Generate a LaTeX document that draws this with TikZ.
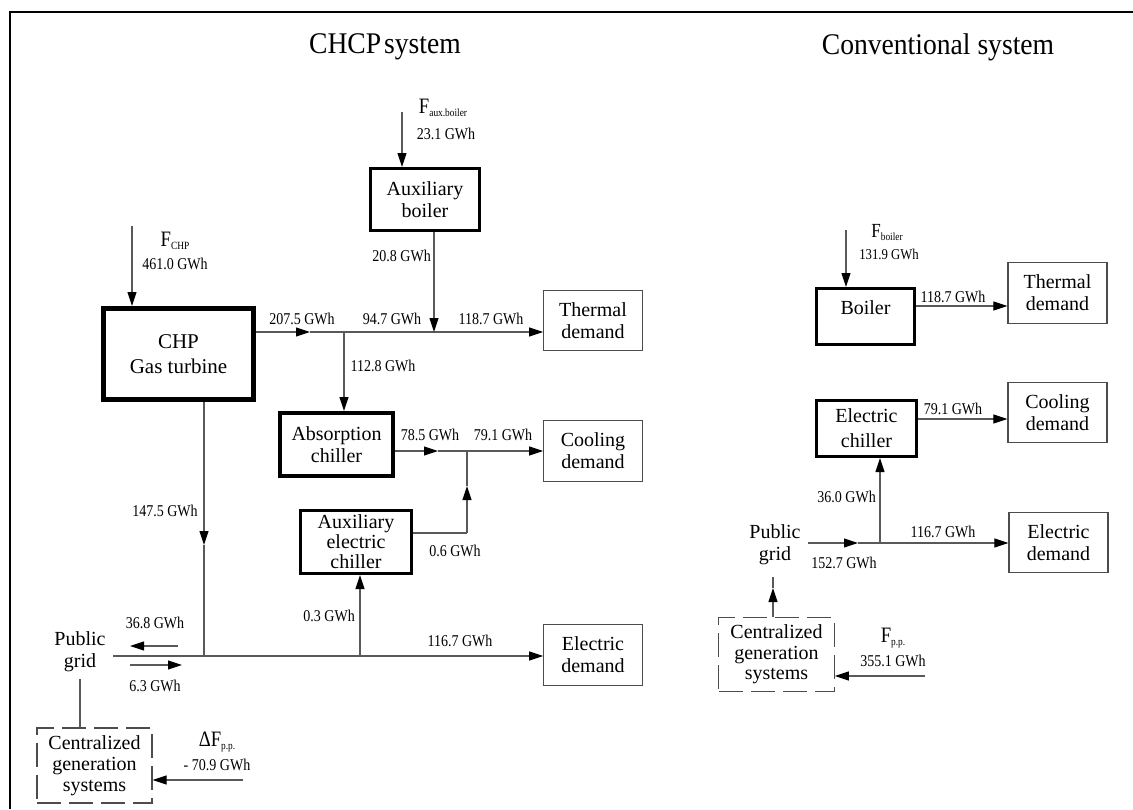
\documentclass[tikz,border=0pt]{standalone}
\usepackage{fontspec}
\setmainfont{Liberation Serif}
\newfontfamily\lab[FakeStretch=0.85]{Liberation Serif}
\newfontfamily\ttl[FakeStretch=0.92]{Liberation Serif}
\usetikzlibrary{arrows.meta}
\newcommand{\sub}[1]{\raisebox{-3pt}{\fontsize{11}{11}\selectfont #1}}
\begin{document}
\begin{tikzpicture}[x=1pt,y=-1pt,
  bx/.style={draw=black, inner sep=0pt, align=center, font=\fontsize{20}{22}\selectfont},
  dem/.style={bx, draw=black!70, line width=1.3pt},
  cgs/.style={bx, draw=black!70, line width=1.3pt, dash pattern=on 24pt off 8pt},
  lbl/.style={inner sep=0pt, font=\lab\fontsize{16.5}{18}\selectfont},
  flbl/.style={inner sep=0pt, font=\lab\fontsize{22}{22}\selectfont},
  txt/.style={inner sep=0pt, align=center, font=\fontsize{20}{22}\selectfont},
  ln/.style={draw=black!65, line width=1.1pt},
  arr/.style={ln, -{Triangle[length=14pt,width=9pt,color=black,fill=black]}},
  frame/.style={line width=2.5pt}
]
\useasboundingbox (0,0) rectangle (1133,809);
% frame
\draw[frame] (10,809) -- (10,12) -- (1133,12);
% titles
\node[inner sep=0pt, font=\ttl\fontsize{30}{30}\selectfont] (t1) at (385,47) {CHCP\hspace{3pt}system};
\node[inner sep=0pt, font=\ttl\fontsize{30}{30}\selectfont] (t2) at (938,47) {Conventional system};

% ===== CHCP boxes =====
\node[bx, line width=5pt, minimum width=150pt, minimum height=91pt, font=\fontsize{21}{26}\selectfont] (chp) at (178.5,354) {CHP\\[-1pt]Gas turbine};
\node[bx, line width=3pt, minimum width=109pt, minimum height=62pt] (auxb) at (425,199.5) {Auxiliary\\boiler};
\node[bx, line width=4pt, minimum width=113pt, minimum height=63pt] (abs) at (336.5,444.5) {Absorption\\chiller};
\node[bx, line width=3pt, minimum width=111pt, minimum height=63pt, font=\fontsize{20}{20}\selectfont] (auxec) at (356,542) {Auxiliary\\electric\\chiller};
\node[dem, minimum width=98.5pt, minimum height=59.5pt] (tdem) at (593,320.5) {Thermal\\demand};
\node[dem, minimum width=98.5pt, minimum height=60.5pt] (cdem) at (593,451) {Cooling\\demand};
\node[dem, minimum width=98.5pt, minimum height=60.5pt] (edem) at (593,655) {Electric\\demand};
\node[cgs, minimum width=115pt, minimum height=75pt, font=\fontsize{20}{21}\selectfont] (cgs) at (94.5,765.5) {Centralized\\generation\\systems};
\node[txt] (pg) at (80,652) {Public\\grid};

% coordinates CHCP
\coordinate (fchp) at (132,226);
\coordinate (faux) at (402,112);
\coordinate (m1) at (310,332);
\coordinate (j1) at (344,332);
\coordinate (j2) at (434,332);
\coordinate (m2) at (438,451);
\coordinate (j3) at (467,451);
\coordinate (k3) at (467,533);
\coordinate (m3) at (467,486);
\coordinate (m4) at (204,545);
\coordinate (jb1) at (204,656);
\coordinate (jb2) at (360,656);
\coordinate (bs) at (113,656);
\coordinate (a1s) at (178,646);
\coordinate (a1e) at (130,646);
\coordinate (a2s) at (130,665);
\coordinate (a2e) at (182,665);
\coordinate (dfp) at (243,780);
\coordinate (pgb) at (80,679);

% connectors CHCP
\draw[arr] (fchp) -- (fchp |- chp.north);
\draw[arr] (faux) -- (faux |- auxb.north);
\draw[arr] (chp.east |- m1) -- (m1);
\draw[ln] (m1) -- (j1) -- (j2);
\draw[arr] (j2) -- (tdem.west |- j2);
\draw[arr] (j2 |- auxb.south) -- (j2);
\draw[arr] (j1) -- (j1 |- abs.north);
\draw[arr] (abs.east |- m2) -- (m2);
\draw[ln] (m2) -- (j3);
\draw[arr] (j3) -- (cdem.west |- j3);
\draw[ln] (auxec.east |- k3) -- (k3);
\draw[arr] (k3) -- (m3);
\draw[ln] (m3) -- (j3);
\draw[arr] (chp.south -| m4) -- (m4);
\draw[ln] (m4) -- (jb1);
\draw[ln] (bs) -- (jb1) -- (jb2);
\draw[arr] (jb2) -- (edem.west |- jb2);
\draw[arr] (jb2) -- (jb2 |- auxec.south);
\draw[arr] (a1s) -- (a1e);
\draw[arr] (a2s) -- (a2e);
\draw[ln] (pgb) -- (cgs.north -| pgb);
\draw[arr] (dfp) -- (cgs.east |- dfp);

% labels CHCP
\node[flbl] (lfchp) at (175,241) {F\sub{CHP}};
\node[lbl] (lfchpv) at (175,264) {461.0 GWh};
\node[flbl] (lfaux) at (443,108) {F\sub{aux.boiler}};
\node[lbl] (lfauxv) at (446,134) {23.1 GWh};
\node[lbl, anchor=east] (l208) at (431,256) {20.8 GWh};
\node[lbl] (l2075) at (302,319) {207.5 GWh};
\node[lbl] (l947) at (392,319) {94.7 GWh};
\node[lbl] (l1187) at (491,319) {118.7 GWh};
\node[lbl] (l1128) at (383,366) {112.8 GWh};
\node[lbl] (l785) at (430,435) {78.5 GWh};
\node[lbl] (l791) at (503,435) {79.1 GWh};
\node[lbl] (l06) at (455,551) {0.6 GWh};
\node[lbl] (l1475) at (165,511) {147.5 GWh};
\node[lbl, anchor=east] (l03) at (355,616) {0.3 GWh};
\node[lbl] (l1167) at (460,641) {116.7 GWh};
\node[lbl] (l368) at (155,623) {36.8 GWh};
\node[lbl] (l63) at (155,686) {6.3 GWh};
\node[flbl] (ldf) at (217,742) {ΔF\sub{p.p.}};
\node[lbl] (ldfv) at (217,765) {- 70.9 GWh};

% ===== Conventional boxes =====
\node[bx, line width=3pt, minimum width=98pt, minimum height=56pt, label={[txt, yshift=9pt]center:Boiler}] (boil) at (865.5,316.5) {};
\node[bx, line width=3pt, minimum width=100pt, minimum height=56pt, font=\fontsize{20}{25}\selectfont] (echil) at (866.5,428.5) {Electric\\chiller};
\node[dem, minimum width=99pt, minimum height=60.5pt] (tdem2) at (1057.5,293) {Thermal\\demand};
\node[dem, minimum width=99pt, minimum height=60.5pt] (cdem2) at (1057.5,412.5) {Cooling\\demand};
\node[dem, minimum width=99pt, minimum height=60.5pt] (edem2) at (1058.5,542.5) {Electric\\demand};
\node[cgs, minimum width=115.5pt, minimum height=73.5pt, font=\fontsize{20}{20.5}\selectfont] (cgs2) at (776.5,654.5) {Centralized\\generation\\systems};
\node[txt] (pg2) at (775,545) {Public\\grid};

% coordinates conventional
\coordinate (fb) at (846,230);
\coordinate (bo) at (916,306);
\coordinate (eo) at (918,419);
\coordinate (bs2) at (808,543);
\coordinate (m5) at (858,543);
\coordinate (jc) at (880,543);
\coordinate (m6) at (773,588);
\coordinate (t6) at (773,577);
\coordinate (fpp) at (925,676);

% connectors conventional
\draw[arr] (fb) -- (fb |- boil.north);
\draw[arr] (boil.east |- bo) -- (tdem2.west |- bo);
\draw[arr] (echil.east |- eo) -- (cdem2.west |- eo);
\draw[arr] (bs2) -- (m5);
\draw[ln] (m5) -- (jc);
\draw[arr] (jc) -- (edem2.west |- jc);
\draw[arr] (jc) -- (jc |- echil.south);
\draw[arr] (cgs2.north -| m6) -- (m6);
\draw[ln] (m6) -- (t6);
\draw[arr] (fpp) -- (cgs2.east |- fpp);

% labels conventional
\node[flbl, font=\lab\fontsize{20}{20}\selectfont] (lfb) at (887,233) {F\sub{boiler}};
\node[lbl, font=\lab\fontsize{15}{16}\selectfont] (lfbv) at (889,254) {131.9 GWh};
\node[lbl] (l1187b) at (953,297) {118.7 GWh};
\node[lbl] (l791b) at (953,409) {79.1 GWh};
\node[lbl, anchor=east] (l360) at (876,497) {36.0 GWh};
\node[lbl] (l1167b) at (943,532) {116.7 GWh};
\node[lbl] (l1527) at (844,563) {152.7 GWh};
\node[flbl] (lfpp) at (893,638) {F\sub{p.p.}};
\node[lbl] (lfppv) at (893,661) {355.1 GWh};
\end{tikzpicture}
\end{document}
